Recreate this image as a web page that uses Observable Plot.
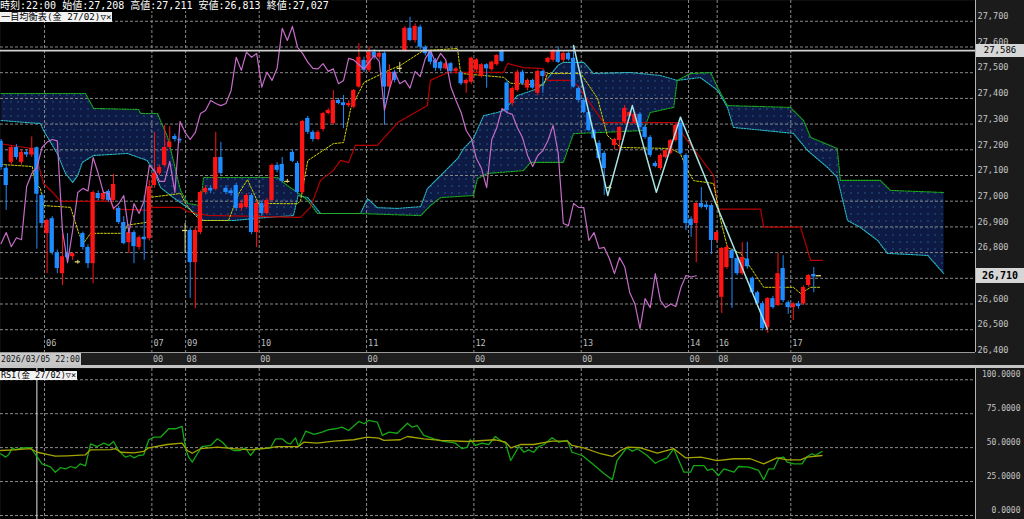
<!DOCTYPE html>
<html><head><meta charset="utf-8">
<script src="https://cdn.jsdelivr.net/npm/d3@7"></script>
<script src="https://cdn.jsdelivr.net/npm/@observablehq/plot@0.6"></script>
<style>
html,body{margin:0;padding:0;background:#000;}
#wrap{position:relative;width:1024px;height:519px;overflow:hidden;background:#1b1b1b;}
#main,#rsi{position:absolute;left:0;}
#main{top:0;} #rsi{top:368px;}
.hdr{position:absolute;left:0;top:0;height:11px;line-height:11px;font-size:10px;font-family:"DejaVu Sans Mono","Noto Sans CJK JP",monospace;color:#fff;background:#000;white-space:pre;padding-right:2px}
.tag{position:absolute;left:0;background:#f2f2f2;color:#000;font-size:9.2px;font-family:"DejaVu Sans Mono","Noto Sans CJK JP",monospace;line-height:10px;height:10px;padding:0 1px;white-space:pre}
#strip{position:absolute;left:0;top:352px;width:975px;height:13px;background:#1e1e1e;border-top:1px solid #9a9a9a;}
#sep{position:absolute;left:0;top:365px;width:1024px;height:3px;background:#c4c4c4;}
.sl{position:absolute;top:0;font-size:8.5px;font-family:"DejaVu Sans Mono",monospace;color:#bdbdbd;line-height:13px}
.pbox{position:absolute;left:976px;width:48px;background:#d6d6d6;color:#000;font-size:9px;font-family:"DejaVu Sans Mono",monospace;text-align:center}
#dbox{position:absolute;left:0;top:0;width:80px;height:12px;background:#c8c8c8;color:#111;font-size:8.2px;font-family:"DejaVu Sans Mono",monospace;line-height:12px;padding-left:1px}
</style></head>
<body>
<div id="wrap">
  <div id="main"></div>
  <div id="strip"><div id="dbox">2026/03/05 22:00</div></div>
  <div id="sep"></div>
  <div id="rsi"></div>
  <div class="hdr">時刻:22:00 始値:27,208 高値:27,211 安値:26,813 終値:27,027</div>
  <div class="tag" style="top:12px">一目均衡表(金 27/02)▽×</div>
  <div class="tag" style="top:371px;font-size:8.5px;line-height:9px;height:9px">RSI(金 27/02)▽×</div>
</div>
<script>
// ---------- data ----------
const candleO = [
27233,27128,27151,27209,27151,27190,27180,27208,27022,26874,
26932,26800,26718,26796,26784,26764,26874,26820,26757,27030,
27005,27038,27003,26972,26917,26839,26878,26820,26860,26854,
27061,27108,27139,27209,27252,27240,26886,26886,26761,26878,
27034,27050,27046,27170,27050,27040,27061,26972,26976,27022,
26878,26991,26952,27003,27139,27143,27077,27190,27147,27034,
27322,27268,27240,27279,27341,27302,27392,27383,27372,27366,
27444,27548,27509,27580,27560,27575,27444,27502,27517,27586,
27673,27625,27677,27599,27580,27548,27540,27515,27535,27505,
27500,27457,27463,27510,27485,27531,27512,27531,27586,27460,
27380,27431,27502,27440,27470,27420,27505,27540,27548,27586,
27548,27575,27556,27438,27392,27345,27275,27225,27186,27053,
27217,27236,27307,27330,27307,27338,27287,27248,27147,27127,
27170,27186,27236,27303,27178,26930,26913,26991,26985,26983,
26847,26626,26742,26808,26777,26718,26775,26700,26644,26601,
26508,26621,26594,26738,26605,26586,26600,26601,26672,26715,
26710];
const candleH = [
27240,27140,27215,27220,27200,27200,27250,27211,27030,26930,
26940,26810,26874,26874,26800,26770,26880,26830,27040,27040,
27040,27045,27105,26980,26940,26885,26885,26865,27020,27080,
27268,27140,27295,27290,27260,27245,26913,26895,26895,27040,
27060,27060,27268,27229,27060,27050,27070,27000,27030,27030,
27000,27000,27010,27145,27150,27170,27085,27200,27155,27315,
27330,27275,27275,27345,27360,27431,27400,27411,27390,27435,
27613,27560,27600,27590,27585,27580,27530,27510,27540,27680,
27716,27690,27685,27605,27585,27555,27545,27545,27540,27520,
27505,27475,27560,27555,27535,27535,27545,27570,27590,27470,
27445,27510,27510,27475,27475,27510,27510,27560,27590,27600,
27580,27580,27606,27445,27400,27350,27280,27235,27195,27060,
27245,27290,27372,27350,27345,27345,27295,27255,27155,27185,
27200,27240,27300,27327,27185,26940,26995,27053,26995,26990,
26885,26820,26830,26815,26785,26839,26840,26705,26650,26610,
26625,26630,26796,26788,26612,26605,26610,26670,26715,26742,
26710];
const candleL = [
27120,26964,27140,27160,27140,27170,27170,26813,26900,26718,
26790,26718,26672,26770,26770,26755,26810,26738,26679,27000,
27000,26995,26995,26910,26830,26796,26757,26810,26770,26845,
27050,27100,27130,27200,27230,27225,26796,26622,26582,26870,
27025,27030,27040,27100,27025,27020,26960,26960,26970,26870,
26820,26940,26945,26995,27110,27070,27070,27150,27025,27025,
27260,27230,27235,27270,27335,27295,27375,27282,27365,27360,
27440,27500,27500,27550,27550,27295,27430,27460,27500,27580,
27620,27615,27590,27565,27530,27505,27505,27510,27495,27495,
27450,27420,27455,27500,27480,27440,27505,27525,27540,27340,
27370,27425,27450,27430,27435,27410,27420,27535,27540,27535,
27540,27545,27440,27385,27340,27270,27240,27160,27022,27045,
27200,27186,27300,27325,27300,27280,27240,27170,27130,27120,
27165,27180,27230,27180,26886,26860,26760,26970,26965,26793,
26840,26563,26735,26583,26710,26710,26735,26640,26595,26495,
26485,26580,26590,26605,26560,26536,26580,26595,26665,26644,
26710];
const candleC = [
27131,27061,27209,27170,27190,27180,27205,27027,26913,26925,
26800,26738,26784,26780,26796,26764,26820,26757,27034,27010,
27030,27003,27065,26917,26835,26878,26823,26858,26850,27057,
27108,27131,27209,27230,27240,27235,26886,26761,26886,27034,
27050,27040,27170,27108,27034,27030,26972,26990,27022,26878,
26991,26952,27003,27139,27120,27077,27077,27155,27034,27310,
27268,27240,27268,27341,27353,27392,27380,27372,27380,27431,
27560,27509,27580,27560,27575,27444,27502,27470,27517,27673,
27625,27680,27599,27574,27541,27517,27515,27535,27505,27515,
27457,27470,27556,27550,27531,27515,27541,27567,27544,27353,
27438,27502,27457,27470,27440,27505,27485,27556,27586,27540,
27575,27550,27444,27392,27345,27275,27244,27166,27127,27053,
27240,27287,27361,27345,27338,27287,27248,27178,27135,27178,
27197,27236,27295,27186,26913,26905,26991,26976,26975,26847,
26878,26816,26820,26777,26718,26781,26745,26644,26601,26504,
26621,26586,26718,26613,26586,26600,26590,26664,26711,26705,
26710];

const tenkanI = [0,6.1,6.7,7.7,8.3,13.6,15.2,16.1,17.5,24,24.7,28.6,28.8,35.1,36.1,37.4,39,44.5,46.5,48.2,50.8,52,58,58.6,60,65,67,68.4,71,75.8,78.1,82.6,89.3,89.9,98.3,99.7,106.1,106.9,113.4,116.7,118.6,121.2,131,132.9,134.3,135.5,139.4,140.8,142.1,144.7,146.6,149.2,155,156.4,158.4,160.3];
const tenkanV = [27143,27135,27069,27050,26983,26976,26875,26836,26875,26875,26907,26918,27014,27030,26991,26957,26925,26925,27030,27084,26972,26991,26990,27003,27158,27224,27228,27360,27462,27509,27528,27586,27594,27497,27482,27459,27451,27497,27497,27400,27256,27209,27205,27185,27119,27080,27069,26925,26820,26797,26743,26665,26665,26641,26665,26665];

const kijunI = [0,4.4,5.8,7.1,8.3,10.3,11.6,21.4,22,28.6,29.6,35.1,36.5,40.4,58.6,60.5,62.5,65,66.4,68,69.3,73.6,77.6,83.4,84,87.4,98.3,99.1,102.2,106.1,106.9,111.4,112.8,117.9,132.3,133.5,139.4,140.2,148.6,149.2,156.4,158.4,160.7];
const kijunV = [27223,27210,27206,27159,27069,27030,26999,26999,26969,26965,26976,26976,26960,26945,26937,26976,27081,27120,27159,27150,27217,27217,27306,27372,27470,27501,27501,27536,27520,27516,27470,27470,27450,27306,27306,27256,27100,26969,26969,26899,26899,26770,26770];

const senkouAI = [0,7.7,8.3,11,12.6,14,15,15.9,18.1,24.7,28.6,29.8,31.2,33.7,36.5,39.6,45.5,52.1,57.2,58.1,60,62.5,70.3,71.7,73.6,77.6,82.1,83.4,86,89.3,90.5,92.4,94.4,97.1,98.3,101,105,106.9,108.9,110,114,115.9,123.1,129,132.3,136.8,140.2,142.1,143.3,155,157.8,161.7,163.6,165.6,168.1,171.5,173.4,181.3,184.4];
const senkouAV = [27314,27302,27275,27185,27108,27073,27100,27151,27178,27186,27158,27119,27053,27014,26975,26925,26925,26937,26944,27022,27014,26952,26952,27010,26975,26972,26979,27049,27100,27166,27205,27244,27333,27345,27353,27411,27438,27477,27528,27540,27540,27497,27501,27489,27470,27481,27431,27365,27287,27264,27197,27131,27092,26925,26898,26847,26797,26789,26719];

const senkouBI = [0,16.5,18.1,26.9,27.3,30.6,32.6,33.7,35.1,36.5,39,39.6,54.1,56,58,60,61.9,70.3,82.1,84,86,92.4,93.2,95.2,102.2,103.6,110,112,125.7,127,131.6,132.3,134.9,138.8,140.2,142.1,154.4,157,158.4,163.6,164.2,172,174,184.4];
const senkouBV = [27419,27419,27361,27357,27341,27341,27248,27158,27042,26991,26983,27092,27092,27061,27034,27003,26952,26952,26944,26983,27014,27022,27088,27108,27119,27151,27151,27263,27275,27345,27365,27470,27497,27501,27442,27372,27365,27314,27248,27205,27081,27081,27042,27034];

const chikouShift = 24;

const zigzagI = [112,118.7,123.5,128.2,132.9,149.9];
const zigzagV = [27606,27022,27372,27035,27327,26503];

const rsiI = [-0.1,0.9,1.5,2.2,2.8,3.5,4.8,5.8,7.1,8.0,9.0,9.7,10.6,11.6,12.6,13.6,14.6,15.5,16.5,17.5,18.8,20.1,21.1,22.0,23.0,24.3,25.3,26.0,26.9,27.9,28.9,29.9,31.2,32.8,34.1,35.4,36.1,36.7,37.4,38.4,39.3,41.0,42.3,43.3,44.2,45.5,46.8,47.8,48.8,49.8,51.4,52.7,53.7,55.0,56.0,56.6,57.6,58.2,59.6,61.2,62.8,64.1,65.4,66.7,68.0,70.0,71.0,71.9,73.6,74.6,75.9,77.5,79.5,80.4,81.4,82.7,84.7,86.3,87.6,88.9,90.2,91.2,91.8,92.8,94.1,95.4,96.7,97.7,98.7,99.7,101.3,102.3,103.2,104.2,105.2,106.2,107.8,109.1,110.8,111.7,113.7,115.7,118.0,119.6,120.5,122.4,123.5,124.5,126.4,128.0,129.0,130.3,131.6,133.6,134.9,135.5,137.5,138.2,139.1,140.4,141.4,143.4,144.3,146.3,148.2,149.2,150.2,151.2,152.2,153.1,153.8,155.1,156.7,157.7,158.7,159.3,160.6];
const rsiV = [45.5,43.0,45.0,49.9,48.4,49.2,49.9,49.9,43.0,38.1,36.8,35.6,31.9,35.2,34.4,36.1,34.9,38.1,36.6,52.8,50.8,53.3,51.6,54.5,47.9,43.0,44.2,42.5,44.2,44.7,55.8,57.7,57.7,63.9,63.9,65.6,49.2,43.0,39.3,45.5,50.8,51.6,56.5,54.0,50.3,47.9,47.9,49.9,44.2,49.2,49.2,49.9,56.5,56.5,53.3,52.8,57.2,50.8,62.1,59.7,61.4,63.2,63.9,65.1,62.6,69.3,67.6,70.0,68.8,59.0,61.4,60.6,68.0,65.1,66.3,59.0,56.5,54.8,54.0,53.3,49.2,50.3,55.8,51.6,53.3,52.3,58.2,55.3,53.3,40.5,50.8,46.6,48.4,46.6,50.8,52.3,57.3,54.0,55.3,46.6,44.2,38.1,30.7,26.3,40.5,49.9,47.4,49.2,44.2,38.5,40.5,42.5,49.2,31.9,31.9,36.8,36.8,33.2,34.4,29.5,34.4,31.9,36.1,35.6,33.2,26.3,34.4,34.4,42.5,43.0,39.3,38.1,38.1,43.5,45.5,44.2,47.2];
const rsiSigI = [-0.1,2.5,5.8,7.1,9.0,10.6,12.9,16.5,17.5,21.4,22.4,23.4,26.0,27.9,28.9,32.5,35.4,36.4,37.4,39.0,42.3,45.5,48.8,52.1,54.0,58.2,59.2,61.8,65.1,69.0,71.6,73.9,74.9,78.1,79.5,82.7,86.0,91.2,96.7,98.7,99.7,101.6,104.2,107.8,110.8,111.7,114.0,117.3,119.6,121.2,122.5,125.1,128.4,131.6,133.9,136.9,140.1,143.4,146.6,149.2,151.8,153.8,156.4,157.7,160.6];
const rsiSigV = [47.9,48.4,49.2,46.6,45.0,43.7,44.0,44.7,48.4,48.6,49.2,46.6,46.2,47.2,49.9,52.3,53.3,47.9,45.9,49.2,50.3,49.2,48.4,49.6,50.8,50.8,54.0,53.3,54.8,55.8,57.7,57.0,55.3,55.8,58.2,56.5,55.3,54.5,55.8,54.0,49.9,52.3,52.3,54.8,54.8,51.6,49.9,45.5,43.5,47.9,50.3,49.9,45.9,49.2,42.5,43.0,40.5,41.8,41.8,38.1,42.5,41.0,41.0,43.0,44.2];

const priceTicks = [26400,26500,26600,26700,26800,26900,27000,27100,27200,27300,27400,27500,27600,27700];
const rsiTicks = [0,25,50,75,100];
const gridX = [8.5,29.5,36.1,50.5,71.5,92.5,113.5,134.5,140.1,154.5];
const dayLabels = ["06","07","09","10","11","12","13","14","16","17"];
const hourLabels = ["00","00","08","00","00","00","00","00","08","00"];
const priceLine = 27586;
const lastPrice = 26710;
const cursorI = 7;

// ---------- build ----------
const X_DOMAIN = [-0.117, 190.64];
const RED = "#ff1414", BLUE = "#1e8cff", GRID = "#8a8a8a";
const candles = candleO.map((o, i) => ({i, o, h: candleH[i], l: candleL[i], c: candleC[i]}));
const pts = (I, V) => I.map((i, k) => ({i, v: V[k]}));
const tenkan = pts(tenkanI, tenkanV), kijun = pts(kijunI, kijunV);
const sa = pts(senkouAI, senkouAV), sb = pts(senkouBI, senkouBV);
const cloud = sa.concat(sb.slice().reverse());
const chikou = candles.filter(d => d.i >= chikouShift).map(d => ({i: d.i - chikouShift, v: d.c}));
const zigzag = pts(zigzagI, zigzagV);
const dates = gridX.map((x, k) => ({x, t: dayLabels[k], b: hourLabels[k]}));
const up = d => d.c > d.o, dn = d => d.c < d.o, dj = d => d.c === d.o;
const fmt = d3.format(",");
const FONT = "DejaVu Sans Mono";
// the last-price box hides the tick label right under it, as in the reference
const labelTicks = priceTicks.filter(t => Math.abs(t - lastPrice) > 40);

const main = Plot.plot({
  width: 1024, height: 356,
  marginLeft: 0, marginRight: 49, marginTop: 0, marginBottom: 4,
  x: {domain: X_DOMAIN, axis: null},
  y: {domain: [26411.3, 27780.9], axis: null},
  style: {background: "transparent", fontFamily: FONT},
  marks: [
    Plot.frame({fill: "#000", stroke: null}),
    Plot.line(cloud, {x: "i", y: "v", fill: "url(#dots)", stroke: "none"}),
    Plot.ruleY(priceTicks, {stroke: GRID, strokeDasharray: "3,2"}),
    Plot.ruleX(gridX, {stroke: GRID, strokeDasharray: "3,2"}),
    Plot.line(sa, {x: "i", y: "v", stroke: "#2cb8c4", strokeWidth: 1.1, strokeDasharray: "1.5,1.2"}),
    Plot.line(sb, {x: "i", y: "v", stroke: "#1cb01c", strokeWidth: 1.1, strokeDasharray: "1.5,1.2"}),
    Plot.line(kijun, {x: "i", y: "v", stroke: "#b80000", strokeWidth: 1.2}),
    Plot.line(tenkan, {x: "i", y: "v", stroke: "#d2d200", strokeWidth: 1, strokeDasharray: "2,1.5"}),
    Plot.ruleX(candles, {filter: up, x: "i", y1: "l", y2: "h", stroke: RED, strokeWidth: 1}),
    Plot.ruleX(candles, {filter: dn, x: "i", y1: "l", y2: "h", stroke: BLUE, strokeWidth: 1}),
    Plot.ruleX(candles, {filter: dj, x: "i", y1: "l", y2: "h", stroke: "#d8d890", strokeWidth: 1}),
    Plot.rect(candles, {filter: up, x1: d => d.i - 0.42, x2: d => d.i + 0.42, y1: "o", y2: "c", fill: RED}),
    Plot.rect(candles, {filter: dn, x1: d => d.i - 0.42, x2: d => d.i + 0.42, y1: "o", y2: "c", fill: BLUE}),
    Plot.ruleY(candles, {filter: dj, y: "c", x1: d => d.i - 0.5, x2: d => d.i + 0.5, stroke: "#e8d870", strokeWidth: 1.3}),
    Plot.line(chikou, {x: "i", y: "v", stroke: "#c46cc8", strokeWidth: 1.2}),
    Plot.line(zigzag, {x: "i", y: "v", stroke: "#a6e4e4", strokeWidth: 1.5}),
    Plot.ruleY([priceLine], {stroke: "#d0d0d0", strokeWidth: 1.6}),
    Plot.ruleX([X_DOMAIN[1]], {stroke: "#b4b4b4", strokeWidth: 1}),
    Plot.text(labelTicks, {y: d => d, text: d => fmt(d), frameAnchor: "right", textAnchor: "start", dx: 2, dy: -5, fill: "#c4c4c4", fontSize: 8.6, fontFamily: FONT}),
    Plot.text(dates, {x: "x", text: "t", frameAnchor: "bottom", textAnchor: "start", dx: 1.5, dy: -7, fill: "#bdbdbd", fontSize: 8.6, fontFamily: FONT})
  ]
});
d3.select(main).insert("defs", ":first-child").html(
  '<pattern id="dots" width="7" height="7" patternUnits="userSpaceOnUse">' +
  '<rect width="7" height="7" fill="#0c1a44"/><rect x="3" y="3" width="1" height="1" fill="#3a8ccc"/></pattern>');
document.getElementById("main").append(main);

const xs = main.scale("x"), ys = main.scale("y");
const strip = document.getElementById("strip");
dates.forEach(d => {
  const left = xs.apply(d.x) + 1.5;
  if (left < 82) return; // hidden under the date box in the reference
  const s = document.createElement("div");
  s.className = "sl"; s.textContent = d.b;
  s.style.left = left + "px";
  strip.appendChild(s);
});
const wrap = document.getElementById("wrap");
function box(v, txt, h, bold) {
  const b = document.createElement("div");
  b.className = "pbox"; b.textContent = txt;
  b.style.top = (ys.apply(v) - h / 2) + "px";
  b.style.height = h + "px"; b.style.lineHeight = h + "px";
  if (bold) { b.style.fontWeight = "bold"; b.style.fontSize = "10px"; }
  wrap.appendChild(b);
}
box(priceLine, fmt(priceLine), 13, false);
box(lastPrice, fmt(lastPrice), 15, true);

const rsiPlot = Plot.plot({
  width: 1024, height: 151,
  marginLeft: 0, marginRight: 49, marginTop: 0, marginBottom: 0,
  x: {domain: X_DOMAIN, axis: null},
  y: {domain: [-2.95, 108.3], axis: null},
  style: {background: "transparent", fontFamily: FONT},
  marks: [
    Plot.frame({fill: "#000", stroke: null}),
    Plot.ruleY(rsiTicks, {stroke: GRID, strokeDasharray: "3,2"}),
    Plot.ruleX(gridX, {stroke: GRID, strokeDasharray: "3,2"}),
    Plot.ruleX([cursorI], {stroke: "#e6e6e6", strokeWidth: 1}),
    Plot.line(pts(rsiI, rsiV), {x: "i", y: "v", stroke: "#14a814", strokeWidth: 1.3}),
    Plot.line(pts(rsiSigI, rsiSigV), {x: "i", y: "v", stroke: "#a4a400", strokeWidth: 1.3}),
    Plot.ruleX([X_DOMAIN[1]], {stroke: "#b4b4b4", strokeWidth: 1}),
    Plot.text(rsiTicks, {y: d => d, text: d => d.toFixed(4), frameAnchor: "right", textAnchor: "end", dx: 45, dy: -5, fill: "#c4c4c4", fontSize: 8, fontFamily: FONT})
  ]
});
document.getElementById("rsi").append(rsiPlot);
</script>
</body></html>
